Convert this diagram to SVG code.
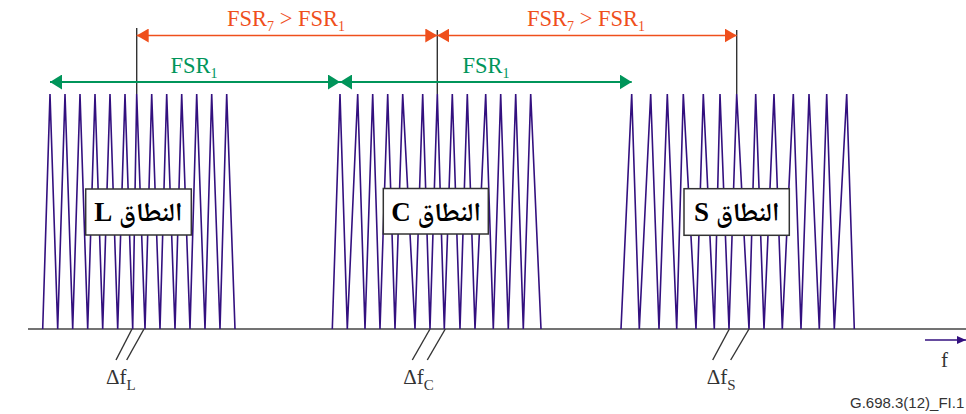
<svg xmlns="http://www.w3.org/2000/svg" width="966" height="414" viewBox="0 0 966 414">
<style>
.peaks{fill:none;stroke:#33107f;stroke-width:1.6;stroke-linejoin:miter}
.box{fill:#fff;stroke:#333;stroke-width:1.5}
.band{font-family:"Liberation Serif",serif;font-weight:bold;font-size:27px;fill:#000}
.ar{font-family:"Noto Naskh Arabic","Noto Sans Arabic","DejaVu Sans",serif;font-size:26px}
.base{stroke:#444;stroke-width:1.6;fill:none}
.tick{stroke:#333;stroke-width:1.4;fill:none}
.or{stroke:#ef4f1c;stroke-width:1.6;fill:none}
.gr{stroke:#00955a;stroke-width:2;fill:none}
.lbl{font-family:"Liberation Serif",serif;font-size:22.5px}
.dl{font-family:"Liberation Serif",serif;font-size:21px;fill:#333}
.foot{font-family:"Liberation Sans",Arial,sans-serif;font-size:15px;fill:#333}
</style>
<defs>
<marker id="ao" markerUnits="userSpaceOnUse" markerWidth="13" markerHeight="14" refX="12" refY="7" orient="auto-start-reverse"><path d="M0,0 L12,7 L0,14 z" fill="#ef4f1c"/></marker>
<marker id="ag" markerUnits="userSpaceOnUse" markerWidth="13" markerHeight="15" refX="12" refY="7.5" orient="auto-start-reverse"><path d="M0,0 L12,7.5 L0,15 z" fill="#00955a"/></marker>
<marker id="ap" markerUnits="userSpaceOnUse" markerWidth="10" markerHeight="10" refX="9" refY="5" orient="auto"><path d="M0,1 L9,5 L0,9 z" fill="#33107f"/></marker>
</defs>
<rect width="966" height="414" fill="#fff"/>
<line class="base" x1="28" y1="329" x2="966" y2="329"/>
<g id="bandL">
<polyline class="peaks" points="42.7,329 50,94 57.7,329 65,94 72.7,329 80,94 87.7,329 95,94 102.7,329 110,94 117.7,329 125,94 132.7,329 136.7,94 145,329 151.7,94 160,329 166.7,94 175,329 181.7,94 190,329 196.7,94 205,329 211.7,94 220,329 226.7,94 235,329"/>
<rect class="box" x="85.7" y="189" width="105.6" height="46"/>
<text class="band" x="138.3" y="221" text-anchor="middle" direction="rtl" unicode-bidi="embed"><tspan class="ar">النطاق</tspan>  L</text>
</g>
<g id="bandC">
<polyline class="peaks" points="332.3,329 340,94 347.3,329 357.7,94 365,329 372.7,94 380,329 387.7,94 395,329 402.7,94 415,329 422.7,94 430,329 437.3,94 444.3,329 452.3,94 460,329 467.3,94 475,329 485.7,94 493.3,329 500.7,94 508.3,329 515.7,94 523.3,329 530.7,94 541,329"/>
<rect class="box" x="383.3" y="188.5" width="105" height="45.5"/>
<text class="band" x="436" y="220.5" text-anchor="middle" direction="rtl" unicode-bidi="embed"><tspan class="ar">النطاق</tspan>  C</text>
</g>
<g id="bandS">
<polyline class="peaks" points="621,329 631.7,94 639.3,329 650.7,94 659,329 667.3,94 676.7,329 683.3,94 696,329 703.3,94 714.3,329 720,94 729,329 736.7,94 749,329 755.7,94 764,329 774,94 782.3,329 793.3,94 801,329 809,94 819.3,329 826.7,94 834.3,329 846.7,94 854.3,329"/>
<rect class="box" x="684" y="188.7" width="105.3" height="46.6"/>
<text class="band" x="736.7" y="221" text-anchor="middle" direction="rtl" unicode-bidi="embed"><tspan class="ar">النطاق</tspan>  S</text>
</g>
<g id="connectors">
<line class="tick" x1="136.7" y1="28" x2="136.7" y2="94"/>
<line class="tick" x1="437.3" y1="30" x2="437.3" y2="94"/>
<line class="tick" x1="736.7" y1="30" x2="736.7" y2="94"/>
<line class="or" x1="136.7" y1="35.5" x2="437.3" y2="35.5" marker-start="url(#ao)" marker-end="url(#ao)"/>
<line class="or" x1="437.3" y1="35.5" x2="736.7" y2="35.5" marker-start="url(#ao)" marker-end="url(#ao)"/>
<line class="gr" x1="50" y1="82" x2="340" y2="82" marker-start="url(#ag)" marker-end="url(#ag)"/>
<line class="gr" x1="340" y1="82" x2="631.7" y2="82" marker-start="url(#ag)" marker-end="url(#ag)"/>
<line class="tick" x1="132" y1="329" x2="116" y2="360"/>
<line class="tick" x1="144" y1="329" x2="126.7" y2="360"/>
<line class="tick" x1="430" y1="329" x2="412.3" y2="360"/>
<line class="tick" x1="445.3" y1="329" x2="427.3" y2="360"/>
<line class="tick" x1="729.3" y1="329" x2="712.7" y2="360"/>
<line class="tick" x1="749" y1="329" x2="730.7" y2="360"/>
<line x1="925" y1="340" x2="966" y2="340" stroke="#33107f" stroke-width="1.6" marker-end="url(#ap)"/>
</g>
<g id="labels">
<text class="lbl" fill="#ef4f1c" x="286" y="26" text-anchor="middle">FSR<tspan font-size="14" dy="5">7</tspan><tspan dy="-5"> &gt; FSR</tspan><tspan font-size="14" dy="5">1</tspan></text>
<text class="lbl" fill="#ef4f1c" x="586" y="26" text-anchor="middle">FSR<tspan font-size="14" dy="5">7</tspan><tspan dy="-5"> &gt; FSR</tspan><tspan font-size="14" dy="5">1</tspan></text>
<text class="lbl" fill="#00955a" x="194" y="73" text-anchor="middle">FSR<tspan font-size="14" dy="5">1</tspan></text>
<text class="lbl" fill="#00955a" x="486" y="73" text-anchor="middle">FSR<tspan font-size="14" dy="5">1</tspan></text>
<text class="dl" x="106" y="384">Δf<tspan font-size="15" dy="6">L</tspan></text>
<text class="dl" x="403.3" y="384">Δf<tspan font-size="15" dy="6">C</tspan></text>
<text class="dl" x="706.7" y="384">Δf<tspan font-size="15" dy="6">S</tspan></text>
<text class="dl" x="941" y="367" font-size="23">f</text>
<text class="foot" x="850" y="408">G.698.3(12)_FI.1</text>
</g>
</svg>
